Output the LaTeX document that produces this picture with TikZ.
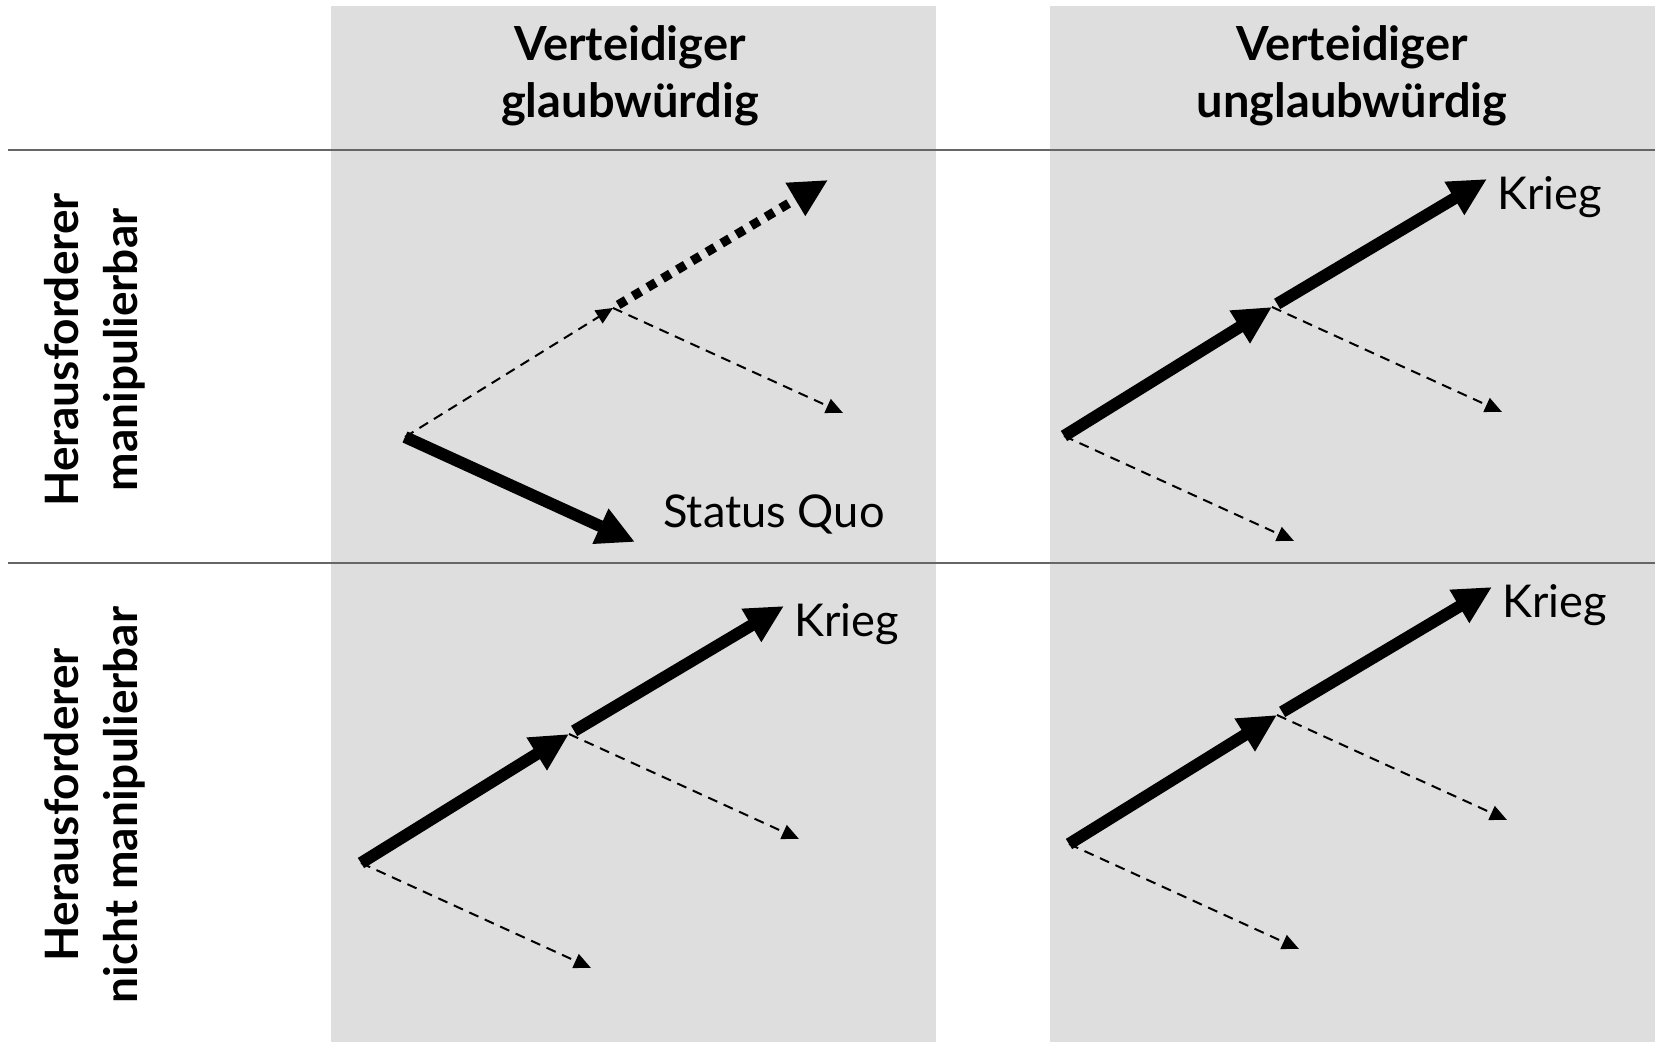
\documentclass[tikz,border=0pt]{standalone}
\usepackage{fontspec}
\setmainfont{Lato}
\usetikzlibrary{arrows.meta}
\definecolor{panelGray}{HTML}{DEDEDE}
\definecolor{ruleGray}{HTML}{666666}
\tikzset{
    panelFill/.style={
        fill=panelGray
    },
    rowLine/.style={
        draw=ruleGray,
        line width=1pt
    },
    moveThick/.style={
        -{Triangle[length=19pt, width=18pt]},
        line width=6pt
    },
    moveDotted/.style={
        -{Triangle[length=19pt, width=18pt]},
        line width=4.6pt,
        dash pattern=on 4.6pt off 4pt
    },
    moveDashed/.style={
        -{Triangle[length=8.5pt, width=7.5pt]},
        line width=1pt,
        dash pattern=on 5pt off 3.5pt
    },
    headText/.style={
        font=\bfseries\fontsize{23.5}{28.5}\selectfont,
        align=center
    },
    sideText/.style={
        font=\bfseries\fontsize{23}{29.5}\selectfont,
        align=center,
        rotate=90
    },
    outcomeText/.style={
        font=\fontsize{22.6}{26}\selectfont,
        inner sep=0pt
    }
}

\begin{document}
\begin{tikzpicture}[x=0.5pt, y=-0.5pt]

        % Canvas
        \useasboundingbox (0,0) rectangle (1655,1042);

        % Column Panels
        \fill[panelFill] (331,6) rectangle (936,1042);
        \fill[panelFill] (1050,6) rectangle (1655,1042);

        % Row Separators
        \draw[rowLine] (8,150) -- (1655,150);
        \draw[rowLine] (8,563) -- (1655,563);

        % Column Headers
        \node[headText] (credible) at (630,76) {Verteidiger\\glaubwürdig};
        \node[headText] (incredible) at (1352,76) {Verteidiger\\unglaubwürdig};

        % Row Headers
        \node[sideText] (manip) at (95,350) {Herausforderer\\manipulierbar};
        \node[sideText] (nomanip) at (95,805) {Herausforderer\\nicht manipulierbar};

        % Macro for Tree Points (root, middle choice, ends)
        \def\treePoints#1#2{
            \path (#2) coordinate (#1root)
                +(208,-129) coordinate (#1mid)
                +(423,-257) coordinate (#1top)
                +(438,-24) coordinate (#1side)
                +(230,105) coordinate (#1low);
        }

        \treePoints{A}{405,437}
        \treePoints{B}{1064,436}
        \treePoints{C}{361,863}
        \treePoints{D}{1069,844}

        % Panel A: Status Quo
        \draw[moveDashed] (Aroot) -- (Amid);
        \draw[moveDashed] (Amid) -- (Aside);
        \draw[moveDotted, shorten <=3pt] (Amid) -- (Atop);
        \draw[moveThick] (Aroot) -- (Alow);
        \node[outcomeText, anchor=base west] (statusQuo) at ([xshift=14pt, yshift=7pt]Alow) {Status Quo};

        % Panels B, C, D: Krieg
        \foreach \p in {B, C, D} {
            \draw[moveDashed] (\p root) -- (\p low);
            \draw[moveDashed] (\p mid) -- (\p side);
            \draw[moveThick] (\p root) -- (\p mid);
            \draw[moveThick, shorten <=3pt] (\p mid) -- (\p top);
            \node[outcomeText, anchor=base west] (war\p) at ([xshift=5pt, yshift=-15.5pt]\p top) {Krieg};
        }

\end{tikzpicture}
\end{document}
